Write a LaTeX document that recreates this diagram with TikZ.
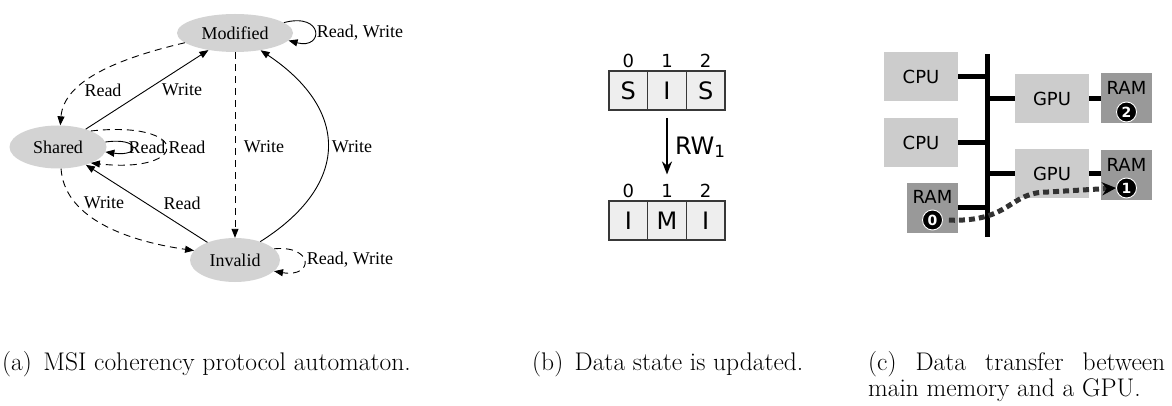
\documentclass[tikz,border=0pt]{standalone}
\usepackage{fontspec}
\usepackage{tikz}
\usetikzlibrary{positioning,shapes.geometric,arrows.meta}
\newfontfamily\gvfont{Liberation Serif}
\newfontfamily\dvfont{DejaVu Sans}
\definecolor{gvgray}{HTML}{D3D3D3}
\definecolor{cellfill}{HTML}{EEEEEE}
\definecolor{cellline}{HTML}{383838}
\definecolor{unitgray}{HTML}{CCCCCC}
\definecolor{memgray}{HTML}{999999}
\definecolor{xfergray}{HTML}{333333}
\tikzset{
  state/.style={ellipse, fill=gvgray, inner sep=0pt, font=\gvfont\fontsize{18}{20}\selectfont},
  lbl/.style={inner sep=0pt, font=\gvfont\fontsize{18}{20}\selectfont},
  gv/.style={line width=0.9pt, -{Triangle[length=9pt,width=7pt]}},
  gvdash/.style={gv, dash pattern=on 7pt off 5pt},
  cell/.style={draw=cellline, fill=cellfill, line width=1.5pt, outer sep=0pt, inner sep=0pt,
    minimum width=38.7pt, minimum height=39pt, font=\dvfont\fontsize{24}{24}\selectfont},
  idx/.style={inner sep=0pt, font=\dvfont\fontsize{18}{18}\selectfont},
  update/.style={line width=2pt, -{Stealth[length=13pt,width=10pt]}},
  unit/.style={fill=unitgray, minimum width=74pt, minimum height=49pt, inner sep=0pt,
    font=\dvfont\fontsize{18}{18}\selectfont},
  mem/.style={fill=memgray, minimum width=51pt, minimum height=50pt, inner sep=0pt},
  memtxt/.style={inner sep=0pt, font=\dvfont\fontsize{18}{18}\selectfont},
  num/.style={circle, fill=black, draw=white, line width=0.9pt, text=white, minimum size=20pt,
    inner sep=0pt, font=\dvfont\bfseries\fontsize{14}{14}\selectfont},
  bus/.style={line width=5pt},
  transfer/.style={draw=xfergray, line width=5pt, dash pattern=on 6pt off 4pt,
    -{Stealth[length=14pt,width=13pt,black]}},
  caption/.style={inner sep=0pt, anchor=base west, font=\fontsize{25.5}{23}\selectfont}
}

\begin{document}
\begin{tikzpicture}[x=1pt, y=-1pt]
\useasboundingbox (0,0) rectangle (1172,406);

\node[state, minimum width=116pt, minimum height=38pt] (M) at (235,33) {Modified};
\node[state, minimum width=97pt, minimum height=43pt] (S) at (58,147) {Shared};
\node[state, minimum width=90pt, minimum height=44pt] (I) at (235,260) {Invalid};

\draw[gv] (M.12) .. controls (324,12) and (324,50) .. (M.-8);
\draw[gvdash] (M.191) .. controls (120,58) and (64,80) .. (S.84);
\draw[gv] (S) -- (M);
\draw[gvdash] (M) -- (I);
\draw[gv] (I.36) .. controls (350,185) and (350,110) .. (M.-34);
\draw[gvdash] (S.-82) .. controls (64,215) and (120,240) .. (I.167);
\draw[gv] (I) -- (S);
\draw[gv] (S.6) .. controls (141,137) and (141,157) .. (S.-6);
\draw[gvdash] (S.26) .. controls (191,120) and (191,174) .. (S.-26);
\draw[gvdash] (I.16) .. controls (314,245) and (314,278) .. (I.-16);

\node[lbl] (lmm) at (360,33) {Read, Write};
\node[lbl] (lms) at (103,90) {Read};
\node[lbl] (lsm) at (182,90) {Write};
\node[lbl] (lss1) at (147,147) {Read};
\node[lbl] (lss2) at (187,147) {Read};
\node[lbl] (lmi) at (264,147) {Write};
\node[lbl] (lim) at (352,147) {Write};
\node[lbl] (lsi) at (104,203) {Write};
\node[lbl] (lis) at (182,203) {Read};
\node[lbl] (lii) at (350,260) {Read, Write};

\node[cell] (t0) at (628.3,90.5) {S};
\node[cell, right=0pt of t0] (t1) {I};
\node[cell, right=0pt of t1] (t2) {S};
\node[cell] (b0) at (628.3,220.5) {I};
\node[cell, right=0pt of b0] (b1) {M};
\node[cell, right=0pt of b1] (b2) {I};
\foreach \i in {0,1,2} {
  \node[idx, above=3pt of t\i] (ti\i) {\i};
  \node[idx, above=3pt of b\i] (bi\i) {\i};
}
\draw[update, shorten <=8pt, shorten >=10pt] (t1) -- (bi1)
  node[midway, right=7pt, idx, font=\dvfont\fontsize{24}{24}\selectfont] (rw) {RW\textsubscript{1}};

\node[unit] (cpu1) at (921,77) {CPU};
\node[unit] (cpu2) at (921,142.5) {CPU};
\node[mem] (ram0) at (932.5,208) {};
\node[unit] (gpu1) at (1052,98.5) {GPU};
\node[mem] (ram2) at (1126.5,98) {};
\node[unit] (gpu2) at (1052,173.5) {GPU};
\node[mem] (ram1) at (1126.5,175.5) {};
\coordinate (bustop) at (987,54);
\coordinate (busbot) at (987,237);
\draw[bus] (bustop) -- (busbot);
\draw[bus] (cpu1.east) -- (cpu1.east -| bustop);
\draw[bus] (cpu2.east) -- (cpu2.east -| bustop);
\draw[bus] (ram0.east) -- (ram0.east -| bustop);
\draw[bus] (gpu1.west -| bustop) -- (gpu1.west);
\draw[bus] (gpu2.west -| bustop) -- (gpu2.west);
\draw[bus] (gpu1.east) -- (gpu1.east -| ram2.west);
\draw[bus] (gpu2.east) -- (gpu2.east -| ram1.west);
\node[memtxt] (r0t) at ([yshift=11pt]ram0.center) {RAM};
\node[memtxt] (r2t) at ([yshift=10pt]ram2.center) {RAM};
\node[memtxt] (r1t) at ([yshift=11pt]ram1.center) {RAM};
\node[num] (n0) at ([yshift=-12pt]ram0.center) {0};
\node[num] (n2) at ([yshift=-14pt]ram2.center) {2};
\node[num] (n1) at ([yshift=-12.5pt]ram1.center) {1};
\draw[transfer, shorten <=6pt] (n0.east) .. controls (1012,222) and (1008,192) .. (1048,192) -- (n1.west);

\node[caption] (capa) at (2,370) {(a)\hspace{0.45em}MSI coherency protocol automaton.};
\node[caption] (capb) at (532,370) {(b)\hspace{0.45em}Data state is updated.};
\node[caption] (capc) at (868,370) {\makebox[297pt][s]{(c) Data transfer between}};
\node[caption] (capd) at (868,396) {main memory and a GPU.};
\end{tikzpicture}
\end{document}
